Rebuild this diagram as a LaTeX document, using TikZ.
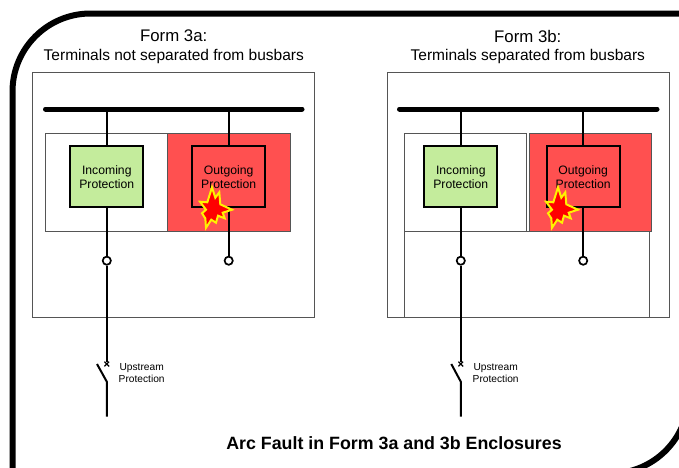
\documentclass[tikz,border=0pt]{standalone}
\usepackage{fontspec}
\setmainfont{Liberation Sans}
\usetikzlibrary{shapes.misc}

\definecolor{faultred}{HTML}{FF5050}
\definecolor{okgreen}{HTML}{C4EC9C}
\definecolor{panelgray}{HTML}{555555}

\tikzset{
	panel/.style = {draw=panelgray, line width=1pt},
	protbox/.style = {draw, line width=1.8pt, minimum width=73pt, minimum height=61pt, inner sep=0pt, align=center, font=\fontsize{12.2}{14.3}\selectfont},
	feeder/.style = {line width=2pt},
	terminal/.style = {circle, draw, fill=white, line width=1.7pt, minimum size=8.2pt, inner sep=0pt},
	busbar/.style = {line width=5pt, line cap=round},
	breaker/.style = {cross out, draw, line width=1.2pt, minimum size=3.5pt, inner sep=0pt},
	formtitle/.style = {font=\fontsize{16.8}{18}\selectfont},
	formnote/.style = {font=\fontsize{15.5}{18}\selectfont},
	tinylabel/.style = {align=center, font=\fontsize{10.2}{12}\selectfont},
	flash/.style = {fill=red, draw=yellow, line width=2pt, line join=miter}
}

\newcommand{\arcflash}[1]{
	\draw[flash, shift={(#1)}] (22, 12.3) -- (25.3, 22.7) -- (29.3, 17.3) -- (30.3, 29.3) -- (42, 34.7) -- (32.7, 37.7) -- (34.7, 43.3) -- (28, 40.7) -- (26, 47.7) -- (21.3, 44.7) -- (16, 52.7) -- (15.3, 43.3) -- (12, 38.3) -- (16, 34.7) -- (10, 26.7) -- (17.3, 27.3) -- cycle;
}

\begin{document}
\begin{tikzpicture}[x=1pt, y=-1pt]
	\clip (0, 0) rectangle (679, 467);
	\fill[white] (0, 0) rectangle (679, 467);

	% outer frame
	\draw[line width=6pt, rounded corners=78pt] (12.5, 473.5) -- (12.5, 13.5) [sharp corners] -- (688.5, 13.5) [rounded corners=78pt] -- (688.5, 473.5) [sharp corners] -- cycle;

	% form 3a
	\node[formtitle] (titleA) at (173.7, 36) {Form 3a:};
	\node[formnote] (noteA) at (173.8, 56) {Terminals not separated from busbars};
	\draw[panel] (32.7, 72.3) rectangle (314.3, 317.7);
	\draw[panel] (45, 133.7) rectangle (167.3, 231.7);
	\draw[panel, fill=faultred] (167.3, 133.7) rectangle (290, 231.7);
	\draw[busbar] (45.5, 109) -- (302, 109);

	\coordinate (busAin) at (106.8, 109);
	\coordinate (busAout) at (228.7, 109);
	\node[protbox, fill=okgreen] (inA) at (106.8, 176.8) {Incoming\\Protection};
	\node[protbox, fill=faultred] (outA) at (228.7, 176.8) {Outgoing\\Protection};
	\node[terminal] (termAin) at (106.8, 260.7) {};
	\node[terminal] (termAout) at (228.7, 260.7) {};
	\draw[feeder] (busAin) -- (inA);
	\draw[feeder] (busAout) -- (outA);
	\draw[feeder] (inA) -- (termAin);
	\draw[feeder] (outA) -- (termAout);

	\node[breaker] (brkA) at (106.8, 364) {};
	\coordinate (bladeA) at (97, 364);
	\coordinate (pivotA) at (106.8, 381.7);
	\coordinate (endA) at (106.8, 416.7);
	\draw[feeder] (termAin) -- (brkA);
	\draw[feeder] (bladeA) -- (pivotA) -- (endA);
	\node[tinylabel] (upA) at (141.7, 372.7) {Upstream\\Protection};
	\arcflash{190, 175}

	% form 3b
	\node[formtitle] (titleB) at (527.8, 36) {Form 3b:};
	\node[formnote] (noteB) at (527.8, 56) {Terminals separated from busbars};
	\draw[panel] (387.3, 72.3) rectangle (669, 317.7);
	\draw[panel] (404.3, 133.7) rectangle (526.7, 231.7);
	\draw[panel] (404.3, 231.7) -- (404.3, 317.7);
	\draw[panel] (649, 231.7) -- (649, 317.7);
	\draw[panel] (404.3, 231.7) -- (649, 231.7);
	\draw[panel, fill=faultred] (529.3, 133.7) rectangle (651.7, 231.7);
	\draw[busbar] (399.5, 109) -- (657, 109);

	\coordinate (busBin) at (460.8, 109);
	\coordinate (busBout) at (583.2, 109);
	\node[protbox, fill=okgreen] (inB) at (460.8, 176.8) {Incoming\\Protection};
	\node[protbox, fill=faultred] (outB) at (583.2, 176.8) {Outgoing\\Protection};
	\node[terminal] (termBin) at (460.8, 260.7) {};
	\node[terminal] (termBout) at (583.2, 260.7) {};
	\draw[feeder] (busBin) -- (inB);
	\draw[feeder] (busBout) -- (outB);
	\draw[feeder] (inB) -- (termBin);
	\draw[feeder] (outB) -- (termBout);

	\node[breaker] (brkB) at (460.8, 364) {};
	\coordinate (bladeB) at (451.3, 364);
	\coordinate (pivotB) at (460.8, 381.7);
	\coordinate (endB) at (460.8, 416.7);
	\draw[feeder] (termBin) -- (brkB);
	\draw[feeder] (bladeB) -- (pivotB) -- (endB);
	\node[tinylabel] (upB) at (495.7, 372.7) {Upstream\\Protection};
	\arcflash{536, 175}

	\node[font=\bfseries\fontsize{17.8}{20}\selectfont] (caption) at (394, 442.7) {Arc Fault in Form 3a and 3b Enclosures};
\end{tikzpicture}
\end{document}
